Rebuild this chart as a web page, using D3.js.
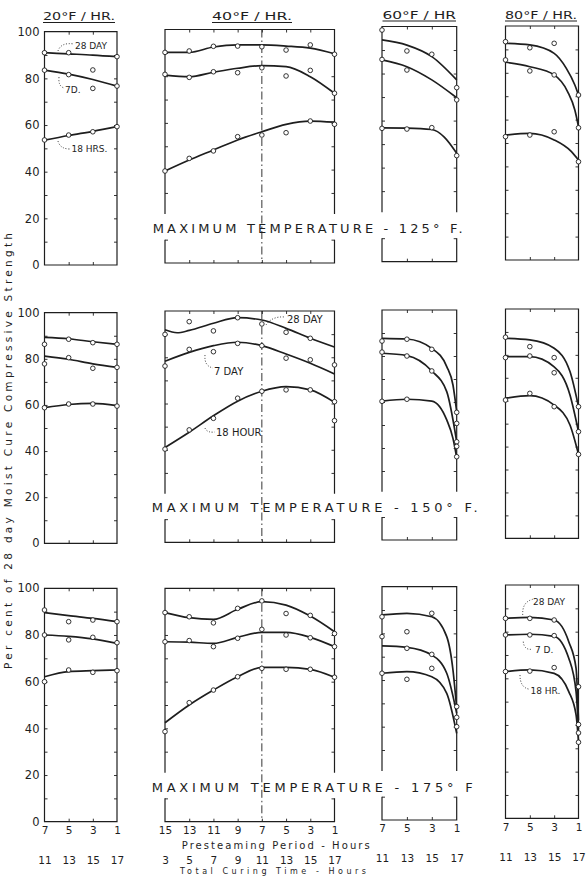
<!DOCTYPE html>
<html>
<head>
<meta charset="utf-8">
<script src="https://cdn.jsdelivr.net/npm/d3@7/dist/d3.min.js"></script>
<style>
  body { margin: 0; background: #fff; }
  svg { display: block; }
  text { font-family: "DejaVu Sans", sans-serif; fill: #1e1e1e; }
</style>
</head>
<body>
<script>
// Page size and ink colour
let svgWidth = 586;
let svgHeight = 876;
let ink = "#1e1e1e";

// ---- data ----
let rates = ["20°F / HR.", "40°F / HR.", "60°F / HR", "80°F / HR."];
let maxTemps = ["125° F.", "150° F.", "175° F"];
let presteam = [[7, 5, 3, 1], [15, 13, 11, 9, 7, 5, 3, 1], [7, 5, 3, 1], [7, 5, 3, 1]];
let curingTime = [[11, 13, 15, 17], [3, 5, 7, 9, 11, 13, 15, 17], [11, 13, 15, 17], [11, 13, 15, 17]];
let yTicks = [0, 20, 40, 60, 80, 100];
let ages = ["28 DAY", "7 DAY", "18 HOUR"];

// fitted curves, [presteam hours, % strength]; per panel: 28 day, 7 day, 18 hour
let fit125 = [
  [[[7, 91], [5, 90.5], [3, 90], [1, 89.3]], [[7, 83.5], [5, 81.8], [3, 79.5], [1, 76.7]], [[7, 53.5], [5, 55.5], [3, 57.3], [1, 59.3]]],
  [[[15, 90.2], [13, 90.2], [11, 92.5], [9, 93.4], [7, 93.4], [5, 92.9], [3, 92], [1, 89.6]],
   [[15, 80.5], [13, 79.8], [11, 81.7], [9, 83.4], [7, 84.5], [5, 84.1], [3, 79.8], [1, 72.7]],
   [[15, 39.4], [13, 44.1], [11, 48.4], [9, 52.7], [7, 56.2], [5, 59.4], [3, 60.8], [1, 60.3]]],
  [[[7, 94.3], [5, 92.1], [3, 87.2], [1, 77.3]], [[7, 85.8], [5, 82.9], [3, 77.3], [1, 69.7]], [[7, 56.9], [5, 56.8], [3, 56.2], [2, 53], [1, 46.1]]],
  [[[7, 92.6], [5, 91.9], [3, 88.3], [2, 81.9], [1.3, 74.8], [1, 70.5]], [[7, 84.5], [5, 82.6], [3, 79.1], [1.9, 72], [1.3, 64.1], [1, 57]], [[7, 53.4], [5, 54.1], [3, 51.3], [1.6, 46.4], [1, 42.7]]]
];
let obs125 = [
  [[[7, 91], [5, 91], [3, 83.6], [1, 89.3]], [[7, 83.5], [5, 81.6], [3, 75.7], [1, 76.7]], [[7, 53.6], [5, 55.7], [3, 57.1], [1, 59.3]]],
  [[[15, 90.2], [13, 90.8], [11, 92.8], [9, 92.9], [7, 92.6], [5, 91.2], [3, 93.4], [1, 89.4]],
   [[15, 80.8], [13, 79.5], [11, 81.9], [9, 81.5], [7, 83.6], [5, 80.1], [3, 82.5], [1, 72.7]],
   [[15, 39.4], [13, 44.8], [11, 48], [9, 54.1], [7, 54.8], [5, 55.8], [3, 60.8], [1, 59.4]]],
  [[[7, 98.5], [5, 89.6], [3, 88.2], [1, 74]], [[7, 86], [5, 81.5], [1, 68.8]], [[7, 56.7], [5, 56.4], [3, 57], [1, 45.1]]],
  [[[7, 93.3], [5, 90.7], [3, 92.6], [1, 70.5]], [[7, 85.5], [5, 80.8], [3, 79.1], [1, 56.5]], [[7, 52.7], [5, 53.4], [3, 54.8], [1, 42]]]
];
let fit150 = [
  [[[7, 89.3], [5, 88.7], [3, 87.4], [1, 86.3]], [[7, 81.2], [5, 79.8], [3, 77.8], [1, 76.3]], [[7, 58.8], [5, 60.2], [3, 60.7], [1, 59.7]]],
  [[[15, 91.9], [14, 90.6], [13, 91.6], [11, 94.7], [9, 97.1], [7, 96.1], [5, 92.5], [3, 88.2], [1, 84.4]],
   [[15, 78.3], [13, 82.1], [11, 85], [9, 86.5], [7, 85], [5, 81.4], [3, 77.4], [1, 72.8]],
   [[15, 41], [13, 47.6], [11, 54.7], [9, 61], [7, 65.3], [5, 67.3], [3, 65.9], [1, 60.5]]],
  [[[7, 87.7], [5, 87.4], [3, 83.3], [1.8, 75.4], [1.3, 67.4], [1, 55.8]], [[7, 81.2], [5, 80.2], [3, 73.5], [1.8, 64.5], [1, 42.7]], [[7, 60.4], [5, 61.2], [3, 60.4], [1.8, 52.2], [1.3, 44.2], [1, 35.8]]],
  [[[7, 87.2], [5, 86.5], [3, 82.9], [1.7, 72.7], [1, 57.4]], [[7, 79.2], [5, 79.2], [3, 74.8], [1.7, 62.5], [1, 46.5]], [[7, 61.1], [5, 62.2], [3, 58.1], [1.7, 49.4], [1, 36.6]]]
];
let obs150 = [
  [[[7, 86.3], [5, 88.5], [3, 87], [1, 86.3]], [[7, 77.8], [5, 80.5], [3, 75.9], [1, 76.3]], [[7, 58.8], [5, 60.4], [3, 60.4], [1, 59.5]]],
  [[[15, 89.9], [13, 95.4], [11, 91.4], [9, 97.1], [7, 94.4], [5, 90.8], [3, 88.2]],
   [[15, 76.2], [13, 83.4], [11, 82.4], [9, 86], [7, 85], [5, 79.6], [3, 78.9], [1, 76.7]],
   [[15, 40.3], [13, 48.6], [11, 53.6], [9, 62.3], [7, 65.3], [5, 65.9], [3, 65.9], [1, 60.8], [1, 52.6]]],
  [[[7, 86.5], [5, 87.3], [3, 82.9], [1, 55.5]], [[7, 81.7], [5, 80], [3, 73.5], [1, 50.7], [1, 42.7]], [[7, 60.3], [5, 61.2], [1, 40.7], [1, 36.2]]],
  [[[7, 87.7], [5, 83.6], [3, 78.8], [1, 57.4]], [[7, 78.8], [5, 79.5], [3, 72.2], [1, 46.5]], [[7, 60.3], [5, 63.2], [3, 57.4], [1, 36.6]]]
];
let fit175 = [
  [[[7, 89.6], [5, 88.3], [3, 87.1], [1, 85.7]], [[7, 80], [5, 79.4], [3, 78.3], [1, 76.4]], [[7, 62.1], [5, 64.3], [3, 64.7], [1, 65]]],
  [[[15, 89.6], [13, 87.4], [11, 86.7], [9, 91], [7, 94.3], [5, 92.8], [3, 88.1], [1, 81.4]],
   [[15, 77.1], [13, 76.9], [11, 76.4], [9, 79], [7, 81.1], [5, 81.1], [3, 79], [1, 75]],
   [[15, 42.4], [13, 50], [11, 56.4], [9, 62.1], [7, 66.1], [5, 66.1], [3, 65.3], [1, 61.9]]],
  [[[7, 87.9], [5, 88.6], [3, 87.1], [1.8, 78.6], [1.3, 64.3], [1, 47.9]], [[7, 74.6], [5, 74], [3, 70.7], [1.8, 62.9], [1, 45.7]], [[7, 62.9], [5, 63.6], [3, 61.4], [1.8, 54.3], [1, 37.1]]],
  [[[7, 85.7], [5, 86.1], [3, 85], [1.8, 75.7], [1.2, 64.3], [1, 42]], [[7, 78.6], [5, 78.9], [3, 78], [1.8, 68.6], [1.2, 54.3], [1, 38]], [[7, 62.9], [5, 63.6], [3, 62.1], [1.8, 54.3], [1.2, 44.3], [1, 33]]]
];
let obs175 = [
  [[[7, 90.7], [5, 85.7], [3, 86.4], [1, 85.7]], [[7, 80], [5, 77.9], [3, 79], [1, 76.7]], [[7, 60], [5, 65], [3, 64], [1, 64.7]]],
  [[[15, 89.6], [13, 87.8], [11, 85.2], [9, 91.4], [7, 94.6], [5, 89.2], [3, 88.4], [1, 80.6]],
   [[15, 77.1], [13, 77.6], [11, 75], [9, 78.6], [7, 82.4], [5, 80], [3, 78.8], [1, 75]],
   [[15, 38.6], [13, 51], [11, 56.4], [9, 62.1], [7, 65.7], [5, 65.3], [3, 65.3], [1, 61.9]]],
  [[[7, 87.1], [5, 80.7], [3, 88.6], [1, 48.6]], [[7, 78.6], [5, 73.6], [3, 71], [1, 44]], [[7, 62.9], [5, 60.3], [3, 65], [1, 40]]],
  [[[7, 85.7], [5, 85.7], [3, 85], [1, 56.4]], [[7, 78.6], [5, 78.6], [3, 78.3], [1, 40.2]], [[7, 62.9], [5, 63.1], [3, 64.6], [1, 32.6], [1, 36.6]]]
];

let fits = [fit125, fit150, fit175];
let obs = [obs125, obs150, obs175];

// ---- layout ----
let cols = [[44.5, 117], [165, 334.5], [382, 456.7], [505.5, 578.5]];
let rowBox = [
  [[31.7, 265], [29.5, 263], [26.5, 261.7], [26, 260]],
  [[312.7, 543.3], [311, 542.3], [310, 540], [309, 538.3]],
  [[588.3, 821.7], [588.3, 821.7], [586.7, 820], [585, 818.3]]
];
let tempText = [[152.7, 233, 310], [151.7, 512, 326], [151.7, 792, 321]];

// curve labels with dotted leaders: [row, col, age index, text x, baseline, leader pts]
let callouts = [
  [0, 0, 0, 75, 48.5, [[58, 51], [61, 42], [74, 44]]],
  [0, 0, 1, 65, 92.5, [[59, 77], [58, 86], [64, 88]]],
  [0, 0, 2, 71.5, 151.5, [[58, 141], [60, 149], [70, 149]]],
  [1, 1, 0, 287, 323, [[266, 325], [272, 316], [285, 317]]],
  [1, 1, 1, 214, 374.5, [[205, 355], [204, 366], [213, 368]]],
  [1, 1, 2, 216, 435.5, [[205, 428], [207, 433], [215, 432]]],
  [2, 3, 0, 533, 605, [[522.7, 615], [522, 602], [532.7, 599.3]]],
  [2, 3, 1, 535, 653, [[523.3, 641.7], [524, 650], [531.7, 649.3]]],
  [2, 3, 2, 530.5, 693.5, [[520, 675], [520, 688], [530, 689.3]]]
];
let calloutShort = [["28 DAY", "7D.", "18 HRS."], ["28 DAY", "7 DAY", "18 HOUR"], ["28 DAY", "7 D.", "18 HR."]];

let svg = d3.select("body").append("svg")
            .attr("width", svgWidth)
            .attr("height", svgHeight);

// column titles, underlined
let titleBase = [20, 20, 18.5, 18.5];
let titleSpan = [[43, 115], [212, 292], [382.5, 456], [505, 577]];
rates.forEach((t, c) => {
    svg.append("text")
       .attr("x", titleSpan[c][0]).attr("y", titleBase[c])
       .attr("font-size", 11)
       .attr("textLength", titleSpan[c][1] - titleSpan[c][0])
       .attr("lengthAdjust", "spacingAndGlyphs")
       .text(t);
    svg.append("line")
       .attr("x1", titleSpan[c][0]).attr("x2", titleSpan[c][1])
       .attr("y1", titleBase[c] + 2.5).attr("y2", titleBase[c] + 2.5)
       .attr("stroke", ink).attr("stroke-width", 1);
});

// y axis title
svg.append("text")
   .attr("transform", "translate(12,451) rotate(-90)")
   .attr("text-anchor", "middle")
   .attr("font-size", 10.5)
   .attr("textLength", 436)
   .attr("lengthAdjust", "spacing")
   .text("Per cent of 28 day Moist Cure Compressive Strength");

let line = d3.line().x(d => d[0]).y(d => d[1]).curve(d3.curveMonotoneX);

maxTemps.forEach((temp, r) => {
    cols.forEach((cx, c) => {
        let top = rowBox[r][c][0];
        let bottom = rowBox[r][c][1];
        let x = d3.scaleLinear().domain([d3.max(presteam[c]), d3.min(presteam[c])]).range(cx);
        let y = d3.scaleLinear().domain([0, 100]).range([bottom, top]);
        let broken = c === 1 || c === 2;
        let g = svg.append("g").attr("color", ink);

        // frame (middle panels are broken where the temperature note runs across)
        let frame = broken
            ? `M${cx[0]},${y(21)}V${top}H${cx[1]}V${y(21)}M${cx[0]},${y(10)}V${bottom}H${cx[1]}V${y(10)}`
            : `M${cx[0]},${top}V${bottom}H${cx[1]}V${top}Z`;
        g.append("path").attr("d", frame)
         .attr("fill", "none").attr("stroke", ink).attr("stroke-width", 1.2);

        // inner tick marks
        let inner = d3.range(10, 100, 10).filter(v => !(broken && v === 20));
        let tl = g.append("g").attr("transform", `translate(${cx[0]},0)`)
                  .call(d3.axisLeft(y).tickValues(inner).tickSize(-3).tickFormat(""));
        let tr = g.append("g").attr("transform", `translate(${cx[1]},0)`)
                  .call(d3.axisRight(y).tickValues(inner).tickSize(-3).tickFormat(""));
        let xt = presteam[c].slice(1, -1);
        let tt = g.append("g").attr("transform", `translate(0,${top})`)
                  .call(d3.axisTop(x).tickValues(xt).tickSize(-3).tickFormat(""));
        let tb = g.append("g").attr("transform", `translate(0,${bottom})`)
                  .call(d3.axisBottom(x).tickValues(xt).tickSize(-3).tickFormat(""));
        [tl, tr, tt, tb].forEach(a => {
            a.select(".domain").remove();
            a.selectAll("line").attr("stroke-width", 0.9);
        });

        // y labels on the first column
        if (c === 0) {
            let ya = g.append("g").attr("transform", `translate(${cx[0]},0)`)
                      .call(d3.axisLeft(y).tickValues(yTicks).tickSize(0).tickPadding(5));
            ya.select(".domain").remove();
            ya.selectAll("text").attr("font-size", 11.5)
              .attr("font-family", "DejaVu Sans, sans-serif").attr("fill", ink);
        }

        // dashed guide at 7 hours presteam in the 40 F/hr panels
        if (c === 1) {
            g.append("line")
             .attr("x1", x(7)).attr("x2", x(7))
             .attr("y1", top).attr("y2", bottom)
             .attr("stroke", ink).attr("stroke-width", 0.9)
             .attr("stroke-dasharray", "8,3,1.5,3");
        }

        // fitted curves
        fits[r][c].forEach(s => {
            g.append("path")
             .attr("d", line(s.map(d => [x(d[0]), y(d[1])])))
             .attr("fill", "none").attr("stroke", ink).attr("stroke-width", 1.7);
        });

        // test points
        obs[r][c].forEach(s => {
            g.selectAll(null).data(s).enter().append("circle")
             .attr("cx", d => x(d[0])).attr("cy", d => y(d[1]))
             .attr("r", 2.3)
             .attr("fill", "#fff").attr("stroke", ink).attr("stroke-width", 0.9);
        });

        // x labels below the last row
        if (r === 2) {
            let xa = g.append("g").attr("transform", `translate(0,${bottom})`)
                      .call(d3.axisBottom(x).tickValues(presteam[c]).tickSize(0).tickPadding(5)
                              .tickFormat(d3.format("d")));
            xa.select(".domain").remove();
            xa.selectAll("text").attr("font-size", 10.5)
              .attr("font-family", "DejaVu Sans, sans-serif").attr("fill", ink);

            let ct = d3.scaleLinear().domain(d3.extent(curingTime[c])).range(cx);
            let ca = g.append("g").attr("transform", `translate(0,${bottom + 32})`)
                      .call(d3.axisBottom(ct).tickValues(curingTime[c]).tickSize(0).tickPadding(3)
                              .tickFormat(d3.format("d")));
            ca.select(".domain").remove();
            ca.selectAll("text").attr("font-size", 10.5)
              .attr("font-family", "DejaVu Sans, sans-serif").attr("fill", ink);
        }
    });

    // maximum temperature note across the middle panels
    svg.append("text")
       .attr("x", tempText[r][0]).attr("y", tempText[r][1])
       .attr("font-size", 13)
       .attr("textLength", tempText[r][2])
       .attr("lengthAdjust", "spacing")
       .text("MAXIMUM TEMPERATURE - " + temp);
});

// curve callouts
callouts.forEach(k => {
    let [r, c, a, tx, ty, pts] = k;
    svg.append("text")
       .attr("x", tx).attr("y", ty)
       .attr("font-size", r === 1 ? 10 : 9)
       .text(calloutShort[r][a]);
    let p = d3.path();
    p.moveTo(pts[0][0], pts[0][1]);
    p.quadraticCurveTo(pts[1][0], pts[1][1], pts[2][0], pts[2][1]);
    svg.append("path").attr("d", p.toString())
       .attr("fill", "none").attr("stroke", ink).attr("stroke-width", 0.9)
       .attr("stroke-dasharray", "1,1.8");
});

// x axis titles
svg.append("text")
   .attr("x", 181.7).attr("y", 849)
   .attr("font-size", 10)
   .attr("textLength", 188).attr("lengthAdjust", "spacing")
   .text("Presteaming Period - Hours");
svg.append("text")
   .attr("x", 180).attr("y", 873.5)
   .attr("font-size", 8)
   .attr("fill", "#666")
   .attr("textLength", 186).attr("lengthAdjust", "spacing")
   .text("Total Curing Time - Hours");
</script>
</body>
</html>
